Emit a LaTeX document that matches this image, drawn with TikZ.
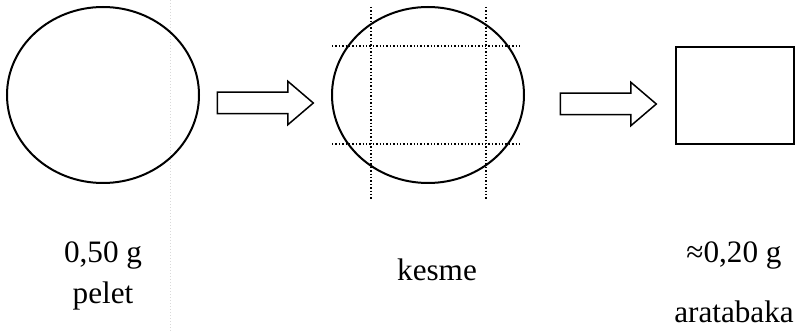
\documentclass[tikz,border=0pt]{standalone}
\usepackage{fontspec}
\setmainfont{Liberation Serif}
\usetikzlibrary{shapes.geometric,shapes.arrows}

\tikzset{
  disk/.style={draw, ellipse, line width=1pt, minimum width=96pt, minimum height=88pt, inner sep=0pt},
  cutline/.style={densely dotted, line width=0.7pt},
  blockarrow/.style={draw, single arrow, line width=0.75pt, single arrow head extend=5.5pt,
    single arrow tip angle=81, inner xsep=0pt, inner ysep=5pt, text height=0pt, text depth=0pt,
    minimum height=48pt},
  lbl/.style={anchor=base, font=\fontsize{15.6}{18}\selectfont, inner sep=0pt},
}

\begin{document}
\begin{tikzpicture}[x=0.5pt, y=-0.5pt]
    \useasboundingbox (0,0) rectangle (798,331);

    % faint line from the scan
    \draw[gray!30, densely dotted, line width=0.5pt] (170,0) -- (170,331);

    % pellet
    \node[disk] (pelet) at (103,95) {};
    \node[lbl] (kutle1) at (103,263) {0,50 g};
    \node[lbl] (ad1) at (103,304) {pelet};

    % first arrow
    \node[blockarrow] (ok1) at (259,103) {};

    % cutting
    \node[disk] (kesik) at (428,95) {};
    \draw[cutline] (371,7) -- (371,199);
    \draw[cutline] (486,7) -- (486,199);
    \draw[cutline] (332,46) -- (521,46);
    \draw[cutline] (332,144) -- (521,144);
    \node[lbl] (ad2) at (437,281) {kesme};

    % second arrow
    \node[blockarrow] (ok2) at (602,104) {};

    % piece
    \node[draw, line width=1pt, minimum width=59pt, minimum height=48.5pt, inner sep=0pt] (parca) at (735,95.5) {};
    \node[lbl] (kutle3) at (734,263) {≈0,20 g};
    \node[lbl] (ad3) at (734,322) {aratabaka};
\end{tikzpicture}
\end{document}
